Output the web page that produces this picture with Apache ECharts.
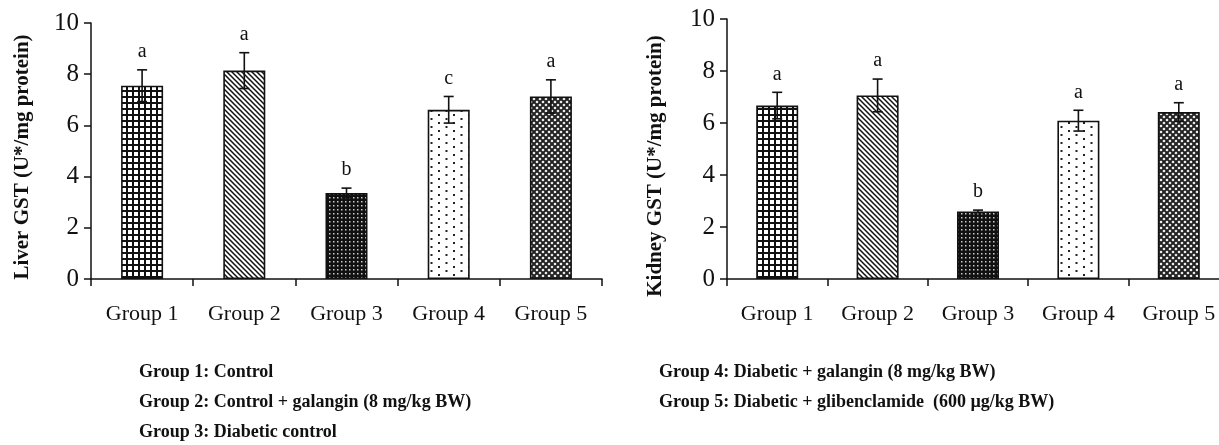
<!DOCTYPE html>
<html>
<head>
<meta charset="utf-8">
<script src="https://cdn.jsdelivr.net/npm/echarts@6/dist/echarts.min.js"></script>
<style>
html,body{margin:0;padding:0;background:#fff;}
#chart{width:1219px;height:445px;}
</style>
</head>
<body>
<div id="chart"></div>
<script>
// ---- data ----
const categories = ['Group 1', 'Group 2', 'Group 3', 'Group 4', 'Group 5'];
const liverMean = [7.55, 8.14, 3.36, 6.61, 7.13];
const liverErr = [0.62, 0.70, 0.19, 0.52, 0.65];
const liverLetters = ['a', 'a', 'b', 'c', 'a'];
const kidneyMean = [6.67, 7.06, 2.60, 6.09, 6.42];
const kidneyErr = [0.51, 0.63, 0.05, 0.40, 0.36];
const kidneyLetters = ['a', 'a', 'b', 'a', 'a'];
const yTicks = [0, 2, 4, 6, 8, 10];
const liverTitle = 'Liver GST (U*/mg protein)';
const kidneyTitle = 'Kidney GST (U*/mg protein)';
const legendLeft = ['Group 1: Control', 'Group 2: Control + galangin (8 mg/kg BW)', 'Group 3: Diabetic control'];
const legendRight = ['Group 4: Diabetic + galangin (8 mg/kg BW)', 'Group 5: Diabetic + glibenclamide  (600 \u00b5g/kg BW)'];

// ---- patterns ----
function tile(w, h, draw) {
  const c = document.createElement('canvas');
  c.width = w; c.height = h;
  const ctx = c.getContext('2d');
  draw(ctx, w, h);
  return { image: c, repeat: 'repeat' };
}
const patGrid = tile(6, 6, (ctx, w, h) => {
  ctx.fillStyle = '#fff'; ctx.fillRect(0, 0, w, h);
  ctx.fillStyle = '#111'; ctx.fillRect(0, 0, w, 2); ctx.fillRect(0, 0, 2, h);
});
const patDiag = tile(5, 5, (ctx, w, h) => {
  ctx.fillStyle = '#fff'; ctx.fillRect(0, 0, w, h);
  ctx.strokeStyle = '#111'; ctx.lineWidth = 1.5;
  ctx.beginPath();
  ctx.moveTo(-1, -1); ctx.lineTo(w + 1, h + 1);
  ctx.moveTo(-1, h - 1); ctx.lineTo(1, h + 1);
  ctx.moveTo(w - 1, -1); ctx.lineTo(w + 1, 1);
  ctx.stroke();
});
const patDark = tile(4, 4, (ctx, w, h) => {
  ctx.fillStyle = '#111'; ctx.fillRect(0, 0, w, h);
  ctx.fillStyle = '#ccc'; ctx.fillRect(1, 1, 1.5, 1.5);
});
const patDots = tile(15, 8, (ctx, w, h) => {
  ctx.fillStyle = '#fff'; ctx.fillRect(0, 0, w, h);
  ctx.fillStyle = '#222'; ctx.fillRect(3, 2, 2, 2); ctx.fillRect(10.5, 6, 2, 2);
});
const patCross = tile(6, 6, (ctx, w, h) => {
  ctx.fillStyle = '#fff'; ctx.fillRect(0, 0, w, h);
  ctx.strokeStyle = '#222'; ctx.lineWidth = 2;
  ctx.beginPath();
  ctx.moveTo(0, 0); ctx.lineTo(w, h);
  ctx.moveTo(w, 0); ctx.lineTo(0, h);
  ctx.stroke();
});
const patterns = [patGrid, patDiag, patDark, patDots, patCross];

const serif = '"Liberation Serif", "DejaVu Serif", serif';

function barSeries(vals, gi) {
  return {
    type: 'bar', xAxisIndex: gi, yAxisIndex: gi, barWidth: 42,
    data: vals.map((v, i) => ({
      value: v,
      itemStyle: { color: patterns[i], borderColor: '#111', borderWidth: 1.6 }
    })),
    silent: true, z: 2
  };
}
function errSeries(means, errs, letters, gi) {
  return {
    type: 'custom', xAxisIndex: gi, yAxisIndex: gi, z: 5, silent: true,
    data: means.map((m, i) => [i, m, errs[i]]),
    renderItem: function (params, api) {
      const i = api.value(0), m = api.value(1), e = api.value(2);
      const top = api.coord([i, m + e]);
      const bot = api.coord([i, m - e]);
      const cw = 5;
      const st = { stroke: '#111', lineWidth: 1.6 };
      return {
        type: 'group',
        children: [
          { type: 'line', shape: { x1: top[0], y1: top[1], x2: bot[0], y2: bot[1] }, style: st },
          { type: 'line', shape: { x1: top[0] - cw, y1: top[1], x2: top[0] + cw, y2: top[1] }, style: st },
          { type: 'line', shape: { x1: bot[0] - cw, y1: bot[1], x2: bot[0] + cw, y2: bot[1] }, style: st },
          { type: 'text', x: top[0], y: top[1] - 8,
            style: { text: letters[params.dataIndex], font: '20px ' + serif, fill: '#111',
                     textAlign: 'center', textVerticalAlign: 'bottom' } }
        ]
      };
    }
  };
}

const axisLine = { show: true, lineStyle: { color: '#111', width: 1.5 } };
function xAxis(gi) {
  return {
    type: 'category', gridIndex: gi, data: categories,
    axisLine: axisLine,
    axisTick: { show: true, length: 7, lineStyle: { color: '#111', width: 1.5 } },
    axisLabel: { fontFamily: serif, fontSize: 22, color: '#111', margin: 24 },
    splitLine: { show: false }
  };
}
function yAxis(gi) {
  return {
    type: 'value', gridIndex: gi, min: yTicks[0], max: yTicks[yTicks.length - 1],
    interval: yTicks[1] - yTicks[0],
    axisLine: axisLine,
    axisTick: { show: true, length: 7, lineStyle: { color: '#111', width: 1.5 } },
    axisLabel: { fontFamily: serif, fontSize: 25, color: '#111', margin: 12 },
    splitLine: { show: false }
  };
}

const graphics = [
  { type: 'text', x: 23, y: 157, rotation: Math.PI / 2,
    style: { text: liverTitle, font: 'bold 21px ' + serif, fill: '#111', textAlign: 'center', textVerticalAlign: 'middle' } },
  { type: 'text', x: 656, y: 166, rotation: Math.PI / 2,
    style: { text: kidneyTitle, font: 'bold 21px ' + serif, fill: '#111', textAlign: 'center', textVerticalAlign: 'middle' } }
];
legendLeft.forEach((t, i) => graphics.push({
  type: 'text', x: 139, y: 372 + i * 30,
  style: { text: t, font: 'bold 18px ' + serif, fill: '#111', textVerticalAlign: 'middle' }
}));
legendRight.forEach((t, i) => graphics.push({
  type: 'text', x: 659, y: 372 + i * 30,
  style: { text: t, font: 'bold 18px ' + serif, fill: '#111', textVerticalAlign: 'middle' }
}));

const chart = echarts.init(document.getElementById('chart'), null, { renderer: 'canvas' });
chart.setOption({
  animation: false,
  backgroundColor: '#fff',
  grid: [
    { left: 91, top: 23, width: 511, height: 256, containLabel: false, outerBoundsMode: 'none' },
    { left: 727, top: 19, width: 502, height: 260, containLabel: false, outerBoundsMode: 'none' }
  ],
  xAxis: [xAxis(0), xAxis(1)],
  yAxis: [yAxis(0), yAxis(1)],
  series: [
    barSeries(liverMean, 0), errSeries(liverMean, liverErr, liverLetters, 0),
    barSeries(kidneyMean, 1), errSeries(kidneyMean, kidneyErr, kidneyLetters, 1)
  ],
  graphic: graphics
});
</script>
</body>
</html>
